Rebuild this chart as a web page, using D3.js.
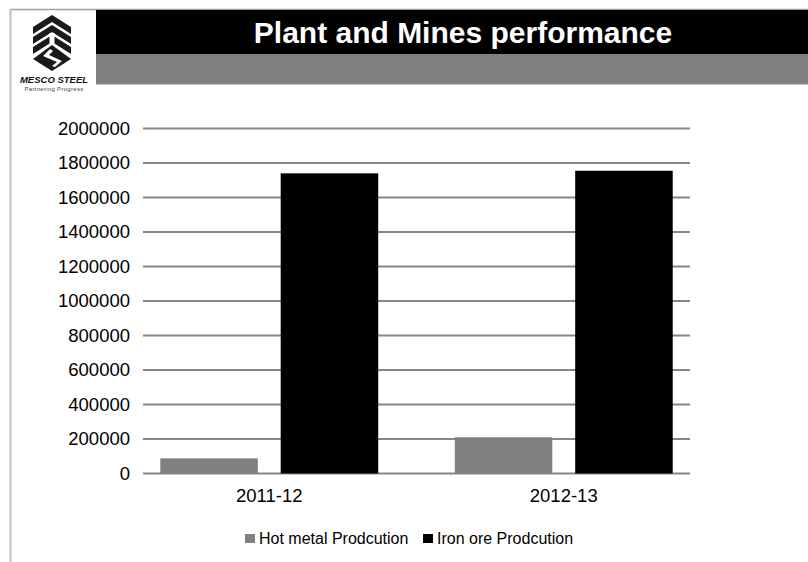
<!DOCTYPE html>
<html>
<head>
<meta charset="utf-8">
<script src="https://cdnjs.cloudflare.com/ajax/libs/d3/7.8.5/d3.min.js"></script>
<style>
  body { margin: 0; background: #fff; }
  svg { display: block; font-family: "Liberation Sans", Arial, sans-serif; }
</style>
</head>
<body>
<div class="chart"></div>
<script>
// data
const categories = ["2011-12", "2012-13"];
const seriesNames = ["Hot metal Prodcution", "Iron ore Prodcution"];
const hotMetal = [88000, 210000];
const ironOre = [1740000, 1755000];
const yTicks = [0, 200000, 400000, 600000, 800000, 1000000, 1200000, 1400000, 1600000, 1800000, 2000000];
const colors = ["#808080", "#000000"];

const W = 808, H = 562;

const svg = d3.select(".chart")
    .append("svg")
    .attr("width", W)
    .attr("height", H);

// slide frame + header
svg.append("line").attr("x1", 10).attr("x2", W).attr("y1", 9.5).attr("y2", 9.5)
    .attr("stroke", "#a0a0a0").attr("stroke-width", 1.5);
svg.append("line").attr("x1", 10.5).attr("x2", 10.5).attr("y1", 9).attr("y2", H)
    .attr("stroke", "#c0c0c0").attr("stroke-width", 2);
svg.append("rect").attr("x", 96).attr("y", 10).attr("width", W - 96).attr("height", 44).attr("fill", "#000");
svg.append("rect").attr("x", 96).attr("y", 54).attr("width", W - 96).attr("height", 30).attr("fill", "#808080");
svg.append("line").attr("x1", 96).attr("x2", W).attr("y1", 84.5).attr("y2", 84.5)
    .attr("stroke", "#c8c8c8").attr("stroke-width", 1);
svg.append("text")
    .attr("x", 463).attr("y", 43)
    .attr("text-anchor", "middle")
    .attr("fill", "#fff")
    .attr("font-size", 30).attr("font-weight", "bold")
    .text("Plant and Mines performance");

// logo (rough)
const logo = svg.append("g").attr("transform", "translate(52,15)");
const chev = (y) => `M-19,${y + 12} L0,${y} L19,${y + 12} L19,${y + 19} L0,${y + 7} L-19,${y + 19} Z`;
[0, 10, 20].forEach(y => logo.append("path").attr("d", chev(y)).attr("fill", "#1a1a1a"));
logo.append("rect").attr("x", -2.5).attr("y", 18).attr("width", 5).attr("height", 14).attr("fill", "#fff");
logo.append("path").attr("d", "M0,30 L19,44 L0,56 L-19,44 Z").attr("fill", "#1a1a1a");
logo.append("path").attr("d", "M-2,34 L-9,41 L5,47 L0,51 L3,52 L10,46 L-3,40 L1,36 Z").attr("fill", "#fff");
svg.append("text").attr("x", 54).attr("y", 83).attr("text-anchor", "middle")
    .attr("font-size", 9.5).attr("font-weight", "bold").attr("font-style", "italic")
    .attr("fill", "#111").text("MESCO STEEL");
svg.append("text").attr("x", 54).attr("y", 91).attr("text-anchor", "middle")
    .attr("font-size", 6).attr("fill", "#444").attr("letter-spacing", 0.3).text("Partnering  Progress");

// chart
const plotL = 143, plotR = 690, y0 = 473.5, yTop = 128.5;

const y = d3.scaleLinear().domain([0, 2000000]).range([y0, yTop]);

// group placement scale (bars and category labels)
const x0 = d3.scaleBand().domain(categories).range([122, 711]).paddingInner(0.26).paddingOuter(0.13);
const x1 = d3.scaleBand().domain(seriesNames).range([0, x0.bandwidth()]).paddingInner(0.19);

const g = svg.append("g");

g.selectAll(".grid")
    .data(yTicks)
    .join("line")
    .attr("class", "grid")
    .attr("x1", plotL).attr("x2", plotR)
    .attr("y1", d => y(d)).attr("y2", d => y(d))
    .attr("stroke", "#868686").attr("stroke-width", 1.8);

const yAxis = d3.axisLeft(y).tickValues(yTicks).tickSize(0).tickPadding(13).tickFormat(d3.format("d"));
g.append("g")
    .attr("transform", `translate(${plotL},0)`)
    .call(yAxis)
    .call(s => s.select(".domain").remove())
    .selectAll("text")
    .attr("font-size", 18.5)
    .attr("font-family", "Liberation Sans, Arial, sans-serif")
    .attr("fill", "#000");

const rows = categories.map((c, i) => ({ cat: c, values: [hotMetal[i], ironOre[i]] }));

g.selectAll(".grp")
    .data(rows)
    .join("g")
    .attr("class", "grp")
    .attr("transform", d => `translate(${x0(d.cat)},0)`)
    .selectAll("rect")
    .data(d => d.values.map((v, k) => ({ key: seriesNames[k], v, k })))
    .join("rect")
    .attr("x", d => x1(d.key))
    .attr("width", x1.bandwidth())
    .attr("y", d => y(d.v))
    .attr("height", d => y(0) - y(d.v))
    .attr("fill", d => colors[d.k]);

const xAxis = d3.axisBottom(x0).tickSize(0).tickPadding(15);
g.append("g")
    .attr("transform", `translate(0,${y0})`)
    .call(xAxis)
    .call(s => s.select(".domain").remove())
    .selectAll("text")
    .attr("font-size", 18.5)
    .attr("font-family", "Liberation Sans, Arial, sans-serif")
    .attr("fill", "#000");

// legend
const legend = svg.append("g").attr("transform", "translate(245,534)");
const legX = [0, 178];
seriesNames.forEach((s, i) => {
    const item = legend.append("g").attr("transform", `translate(${legX[i]},0)`);
    item.append("rect").attr("width", 10).attr("height", 9).attr("fill", colors[i]);
    item.append("text").attr("x", 14).attr("y", 9.5)
        .attr("font-size", 16).attr("fill", "#000").text(s);
});
</script>
</body>
</html>
